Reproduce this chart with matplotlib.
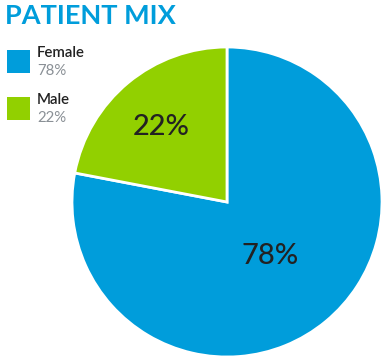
import matplotlib
matplotlib.use("Agg")
import matplotlib.pyplot as plt
from matplotlib.patches import Rectangle

categories = ["Female", "Male"]
values = [78, 22]
colors = ["#009DDB", "#92D000"]
title = "PATIENT MIX"

W, H = 389, 362
fig = plt.figure(figsize=(W / 100, H / 100), dpi=100)
fig.patch.set_facecolor("white")

cx, cy, r = 227, 202, 155
ax = fig.add_axes([(cx - r) / W, (H - cy - r) / H, 2 * r / W, 2 * r / H])
wedges, texts = ax.pie(values, colors=colors, startangle=90, counterclock=False,
                       radius=1, wedgeprops=dict(edgecolor="white", linewidth=2))
ax.set_xlim(-1.0, 1.0)
ax.set_ylim(-1.0, 1.0)
ax.set_aspect("equal")
ax.axis("off")

# value labels inside slices
label_pos = {"Female": (270, 256), "Male": (161, 127)}
for cat, v in zip(categories, values):
    px, py = label_pos[cat]
    fig.text(px / W, 1 - py / H, f"{v}%", ha="center", va="center",
             fontsize=21, color="#222222", family="Lato", fontweight="medium")

fig.text(5 / W, 1 - 16 / H, title, ha="left", va="center", fontsize=19.5,
         color="#009DDB", family="Lato", fontweight="bold")

# legend
leg_y = [50, 97]
for cat, v, c, y in zip(categories, values, colors, leg_y):
    fig.patches.append(Rectangle((7 / W, 1 - (y + 23) / H), 23 / W, 23 / H,
                                 transform=fig.transFigure, facecolor=c,
                                 edgecolor="none"))
    fig.text(37 / W, 1 - (y + 3) / H, cat, ha="left", va="center", fontsize=10.8,
             color="#222222", family="Lato", fontweight="semibold")
    fig.text(37 / W, 1 - (y + 21) / H, f"{v}%", ha="left", va="center",
             fontsize=10.8, color="#8A9096", family="Lato")

fig.savefig("out.png", dpi=100, facecolor="white")
